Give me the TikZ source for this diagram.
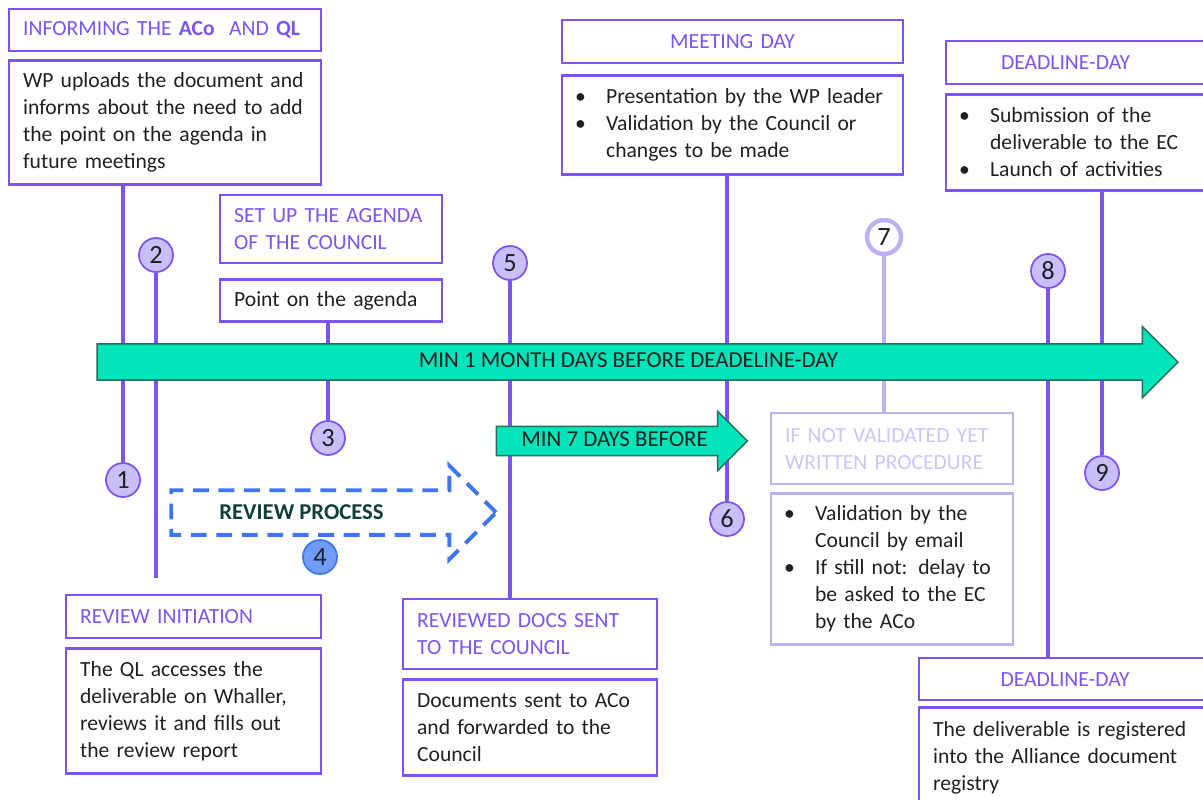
\documentclass[tikz,border=0pt]{standalone}
\usepackage{fontspec}
\setmainfont{Carlito}
\usetikzlibrary{positioning,shapes.arrows}

\definecolor{lilac}{RGB}{124,84,246}
\definecolor{lavender}{RGB}{201,191,250}
\definecolor{pale}{RGB}{190,176,243}
\definecolor{paletext}{RGB}{206,196,248}
\definecolor{mint}{RGB}{0,228,185}
\definecolor{mintdark}{RGB}{42,108,92}
\definecolor{dashblue}{RGB}{62,116,246}
\definecolor{bluefill}{RGB}{112,156,250}
\definecolor{ink}{RGB}{30,32,34}
\definecolor{revink}{RGB}{16,62,56}

\newcommand{\bul}{\hspace*{-0.02cm}\makebox[0.62cm][l]{\textbullet}}
\newcommand{\ind}{\hspace*{0.6cm}}

\begin{document}
\begin{tikzpicture}[x=0.02cm, y=-0.02cm, node distance=0.16cm,
every node/.style={font=\fontsize{12.3}{15.4}\selectfont, text=ink},
title/.style={rectangle, draw=lilac, line width=1.3pt, text=lilac, inner xsep=0.28cm, inner ysep=0pt, align=left, anchor=north west},
body/.style={rectangle, draw=lilac, line width=1.3pt, inner xsep=0.28cm, inner ysep=0pt, align=left},
num/.style={circle, draw=lilac, fill=lavender, line width=1pt, minimum size=0.68cm, inner sep=0pt, font=\fontsize{15}{15}\selectfont},
stem/.style={draw=lilac, line width=2.8pt},
timeline/.style={single arrow, draw=mintdark, fill=mint, line width=0.8pt, single arrow tip angle=90, text height=8.5pt, text depth=2.5pt, inner xsep=0pt, font=\fontsize{13}{15.4}\selectfont}]

\useasboundingbox (0,0) rectangle (1203,799);

%boxes above the timeline
\node (inform) [title, text width=5.68cm, minimum height=0.84cm] at (8,8) {INFORMING THE \textbf{ACo}\ \ AND \textbf{QL}};
\node (informtxt) [body, text width=5.68cm, minimum height=2.48cm, below=0.14cm of inform] {WP uploads the document and\\ informs about the need to add\\ the point on the agenda in\\ future meetings};

\node (agenda) [title, text width=3.88cm, minimum height=1.36cm] at (219,194) {SET UP THE AGENDA\\ OF THE COUNCIL};
\node (agendatxt) [body, text width=3.88cm, minimum height=0.84cm, below=0.28cm of agenda] {Point on the agenda};

\node (meeting) [title, text width=6.26cm, minimum height=0.86cm, align=center] at (561,19) {MEETING DAY};
\node (meetingtxt) [body, text width=6.26cm, minimum height=1.98cm, below=0.2cm of meeting] {\bul Presentation by the WP leader\\ \bul Validation by the Council or\\ \ind changes to be made};

\node (deadline) [title, text width=4.74cm, minimum height=0.86cm, align=center] at (945,40) {\hspace*{-0.52cm}DEADLINE-DAY};
\node (deadlinetxt) [body, text width=4.74cm, minimum height=1.92cm, below=of deadline] {\bul Submission of the\\ \ind deliverable to the EC\\ \bul Launch of activities};

%boxes below the timeline
\node (initiation) [title, text width=4.54cm, minimum height=0.86cm] at (65,594) {REVIEW INITIATION};
\node (initiationtxt) [body, text width=4.54cm, minimum height=2.5cm, below=of initiation] {The QL accesses the\\ deliverable on Whaller,\\ reviews it and fills out\\ the review report};

\node (sent) [title, text width=4.52cm, minimum height=1.4cm] at (402,598) {REVIEWED DOCS SENT\\ TO THE COUNCIL};
\node (senttxt) [body, text width=4.52cm, minimum height=1.92cm, below=of sent] {Documents sent to ACo\\ and forwarded to the\\ Council};

\node (written) [title, draw=pale, text=paletext, text width=4.28cm, minimum height=1.42cm] at (770,412) {IF NOT VALIDATED YET\\ WRITTEN PROCEDURE};
\node (writtentxt) [body, draw=pale, text width=4.28cm, minimum height=3.02cm, below=0.14cm of written] {\bul Validation by the\\ \ind Council by email\\ \bul If still not: delay to\\ \ind be asked to the EC\\ \ind by the ACo};

\node (registry) [title, text width=5.28cm, minimum height=0.84cm, align=center] at (918,657) {DEADLINE-DAY};
\node (registrytxt) [body, text width=5.28cm, minimum height=2cm, below=0.1cm of registry] {The deliverable is registered\\ into the Alliance document\\ registry};

%circles and their stems
\coordinate (c2end) at (156,578);
\node (c1) [num] at (123,480) {1} edge [stem] (c1 |- informtxt.south);
\node (c2) [num] at (156,255) {2} edge [stem] (c2end);
\node (c3) [num] at (328,438) {3} edge [stem] (c3 |- agendatxt.south);
\node (c4) [num, draw=dashblue, fill=bluefill] at (320,557) {4};
\node (c5) [num] at (510,263) {5} edge [stem] (c5 |- sent.north);
\node (c6) [num] at (727,519) {6} edge [stem] (c6 |- meetingtxt.south);
\node (c7) [num, draw=pale, fill=white, line width=2.5pt] at (884,237) {7} edge [stem, draw=pale] (c7 |- written.north);
\node (c8) [num] at (1048,271) {8} edge [stem] (c8 |- registry.north);
\node (c9) [num] at (1102,473) {9} edge [stem] (c9 |- deadlinetxt.south);

%arrows
\node (month) [timeline, minimum height=21.62cm, minimum width=1.4cm, single arrow head extend=0.35cm, inner ysep=4.45pt] at (628.5,362) {MIN 1 MONTH DAYS BEFORE DEADELINE-DAY};
\node (week) [timeline, minimum height=5.02cm, minimum width=1.16cm, single arrow head extend=0.3cm, inner ysep=2.45pt] at (614.5,441) {MIN 7 DAYS BEFORE};
\node (review) [single arrow, draw=dashblue, dash pattern=on 9pt off 5.5pt, line width=2.2pt, single arrow tip angle=90, minimum height=6.5cm, minimum width=1.8cm, single arrow head extend=0.49cm, text height=8.5pt, text depth=2.5pt, inner ysep=6.1pt, label={[xshift=-0.42cm, font=\fontsize{12.9}{15.4}\selectfont\bfseries, text=revink]center:REVIEW PROCESS}] at (322.5,512.5) {};

\end{tikzpicture}
\end{document}
